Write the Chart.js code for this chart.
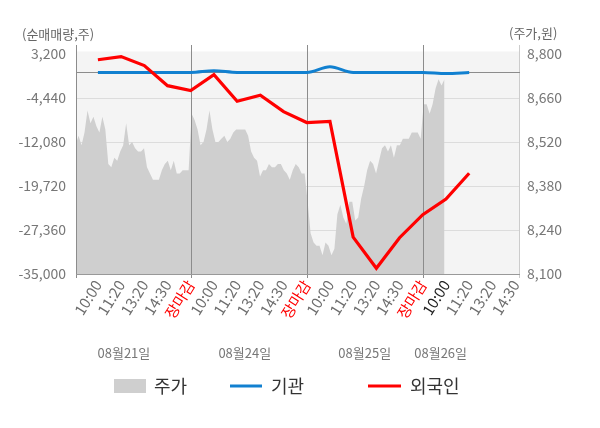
<!DOCTYPE html>
<html><head><meta charset="utf-8">
<script src="https://cdn.jsdelivr.net/npm/chart.js@4.4.0/dist/chart.umd.min.js"></script>
<style>html,body{margin:0;padding:0;background:#fff;}canvas{display:block;}</style>
</head><body>
<canvas id="c" width="600" height="428"></canvas>
<script>
// ---- data ----
const xLabels = ['10:00','11:20','13:20','14:30','장마감','10:00','11:20','13:20','14:30','장마감','10:00','11:20','13:20','14:30','장마감','10:00','11:20','13:20','14:30'];
const dateLabels = ['08월21일','08월24일','08월25일','08월26일'];
const seriesNames = ['주가','기관','외국인'];
const foreign = [2200, 2750, 1200, -2300, -3150, -400, -5000, -3950, -6800, -8700, -8500, -28600, -34000, -28700, -24700, -22000, -17500];
const institution = [0, 0, 0, 0, 0, 300, 0, 0, 0, 0, 1000, 0, 0, 0, 0, -200, 0];
const priceDay1 = [8510,8540,8510,8550,8620,8580,8600,8570,8550,8600,8560,8450,8440,8470,8460,8490,8510,8580,8510,8520,8500,8490,8490,8500,8440,8420,8400,8400,8400,8430,8450,8460,8430,8460,8420,8420,8430,8430,8430];
const priceDay2 = [8610,8590,8560,8510,8520,8560,8620,8560,8520,8520,8530,8540,8520,8530,8550,8560,8560,8560,8560,8540,8490,8470,8460,8410,8430,8430,8450,8440,8440,8450,8450,8430,8420,8400,8430,8450,8440,8420,8420];
const priceDay3 = [8330,8230,8200,8190,8190,8160,8200,8190,8160,8180,8290,8320,8280,8260,8330,8330,8270,8280,8340,8380,8430,8460,8450,8420,8460,8500,8510,8490,8510,8470,8510,8510,8530,8530,8530,8550,8550,8550,8530];
const priceDay4 = [8640,8640,8610,8640,8690,8720,8700,8720];
const leftTicks = [-35000, -27360, -19720, -12080, -4440, 3200];
const rightTicks = [8100, 8240, 8380, 8520, 8660, 8800];

// ---- build ----
const FONT = "'Noto Sans CJK KR', 'Noto Sans', sans-serif";
const priceDays = [priceDay1, priceDay2, priceDay3, priceDay4];
const daySlots = 5;                 // labels per trading day
const samplesPerDay = 39;
const pricePoints = [];
priceDays.forEach((arr, d) => {
  const start = d * daySlots - 1;
  arr.forEach((v, i) => pricePoints.push({ x: start + (i + 0.3) * daySlots / samplesPerDay, y: v }));
});
const foreignPts = foreign.map((v, i) => ({ x: i, y: v }));
const instPts = institution.map((v, i) => ({ x: i, y: v }));
const closeIdx = xLabels.map((l, i) => l === '장마감' ? i : -1).filter(i => i >= 0);

const decor = {
  id: 'decor',
  beforeDraw(chart) {
    const { ctx, chartArea: a } = chart;
    ctx.save();
    ctx.fillStyle = '#ffffff';
    ctx.fillRect(0, 0, chart.width, chart.height);
    ctx.fillStyle = '#f4f4f4';
    ctx.fillRect(a.left, a.top - 2.5, a.right - a.left, a.bottom - a.top + 2.5);
    ctx.restore();
  },
  afterDatasetDraw(chart, args) {
    if (args.index !== 0) return;
    const { ctx, chartArea: a, scales } = chart;
    ctx.save();
    ctx.lineWidth = 1;
    const top = a.top - 9, bot = a.bottom + 4;
    const vline = (x, color) => {
      ctx.strokeStyle = color;
      ctx.beginPath(); ctx.moveTo(Math.round(x) + 0.5, top); ctx.lineTo(Math.round(x) + 0.5, bot); ctx.stroke();
    };
    closeIdx.forEach(i => vline(scales.x.getPixelForValue(i), '#8c8c8c'));
    vline(a.left, '#8c8c8c');
    vline(a.right - 1, '#cccccc');
    ctx.strokeStyle = '#999999';
    ctx.beginPath(); ctx.moveTo(a.left, Math.round(a.bottom) + 0.5); ctx.lineTo(a.right, Math.round(a.bottom) + 0.5); ctx.stroke();
    const y0 = Math.round(scales.y.getPixelForValue(0)) + 0.5;
    ctx.strokeStyle = '#8c8c8c';
    ctx.beginPath(); ctx.moveTo(a.left, y0); ctx.lineTo(a.right, y0); ctx.stroke();
    ctx.restore();
  },
  afterDraw(chart) {
    const { ctx, scales } = chart;
    ctx.save();
    ctx.textBaseline = 'middle';
    ctx.fillStyle = '#666666';
    ctx.font = `13px ${FONT}`;
    ctx.textAlign = 'left';
    ctx.fillText('(순매매량,주)', 22, 34);
    ctx.fillText('(주가,원)', 509, 33);
    const dateSlots = [1.12, 6.33, 11.5, 14.77];
    ctx.font = `13px ${FONT}`;
    ctx.fillStyle = '#777777';
    ctx.textAlign = 'center';
    dateLabels.forEach((t, i) => ctx.fillText(t, scales.x.getPixelForValue(dateSlots[i]), 353));
    const ly = 386;
    ctx.font = `18px ${FONT}`;
    ctx.textAlign = 'left';
    ctx.fillStyle = '#cfcfcf';
    ctx.fillRect(114, 379, 32, 14);
    ctx.fillStyle = '#333333';
    ctx.fillText(seriesNames[0], 154, ly);
    ctx.lineWidth = 3;
    ctx.strokeStyle = '#1180d0';
    ctx.beginPath(); ctx.moveTo(230, ly); ctx.lineTo(262, ly); ctx.stroke();
    ctx.fillText(seriesNames[1], 271, ly);
    ctx.strokeStyle = '#ff0000';
    ctx.beginPath(); ctx.moveTo(368, ly); ctx.lineTo(401, ly); ctx.stroke();
    ctx.fillText(seriesNames[2], 410, ly);
    ctx.restore();
  }
};

new Chart(document.getElementById('c'), {
  type: 'line',
  data: {
    datasets: [
      { label: seriesNames[0], data: pricePoints, yAxisID: 'y2', fill: 'start', backgroundColor: '#cfcfcf', borderWidth: 0, pointRadius: 0, tension: 0, order: 3 },
      { label: seriesNames[1], data: instPts, yAxisID: 'y', borderColor: '#1180d0', borderWidth: 3, pointRadius: 0, cubicInterpolationMode: 'monotone', fill: false, order: 2 },
      { label: seriesNames[2], data: foreignPts, yAxisID: 'y', borderColor: '#ff0000', borderWidth: 3.2, pointRadius: 0, tension: 0, fill: false, order: 1 }
    ]
  },
  options: {
    responsive: false,
    animation: false,
    layout: { padding: { top: 54, left: 0, right: 0, bottom: 0 } },
    plugins: { legend: { display: false }, tooltip: { enabled: false } },
    scales: {
      x: {
        type: 'linear', min: -0.944, max: 18.19,
        afterBuildTicks: s => { s.ticks = xLabels.map((_, i) => ({ value: i })); },
        afterFit: s => { s.height = 154; },
        grid: { display: false, drawTicks: false },
        border: { display: false },
        ticks: {
          autoSkip: false, minRotation: 58, maxRotation: 58, padding: 3,
          font: { family: FONT, size: 15 },
          color: c => xLabels[c.index] === '장마감' ? '#ff0000' : (c.index === 15 ? '#222222' : '#6e6e6e'),
          callback: (v, i) => xLabels[i]
        }
      },
      y: {
        position: 'left', min: -35000, max: 3200,
        afterBuildTicks: s => { s.ticks = leftTicks.map(v => ({ value: v })); },
        afterFit: s => { s.width = 76; },
        grid: { drawTicks: false, lineWidth: 1, color: c => (c.tick && (c.tick.value === -35000 || c.tick.value === 3200)) ? 'rgba(0,0,0,0)' : '#dcdcdc' },
        border: { display: false },
        ticks: { padding: 10, font: { family: FONT, size: 14 }, color: '#777777', callback: v => v.toLocaleString('en-US') }
      },
      y2: {
        position: 'right', min: 8100, max: 8800,
        afterBuildTicks: s => { s.ticks = rightTicks.map(v => ({ value: v })); },
        afterFit: s => { s.width = 80; },
        grid: { display: false, drawTicks: false },
        border: { display: false },
        ticks: { padding: 7, font: { family: FONT, size: 14 }, color: '#777777', callback: v => v.toLocaleString('en-US') }
      }
    }
  },
  plugins: [decor]
});
</script>
</body></html>
